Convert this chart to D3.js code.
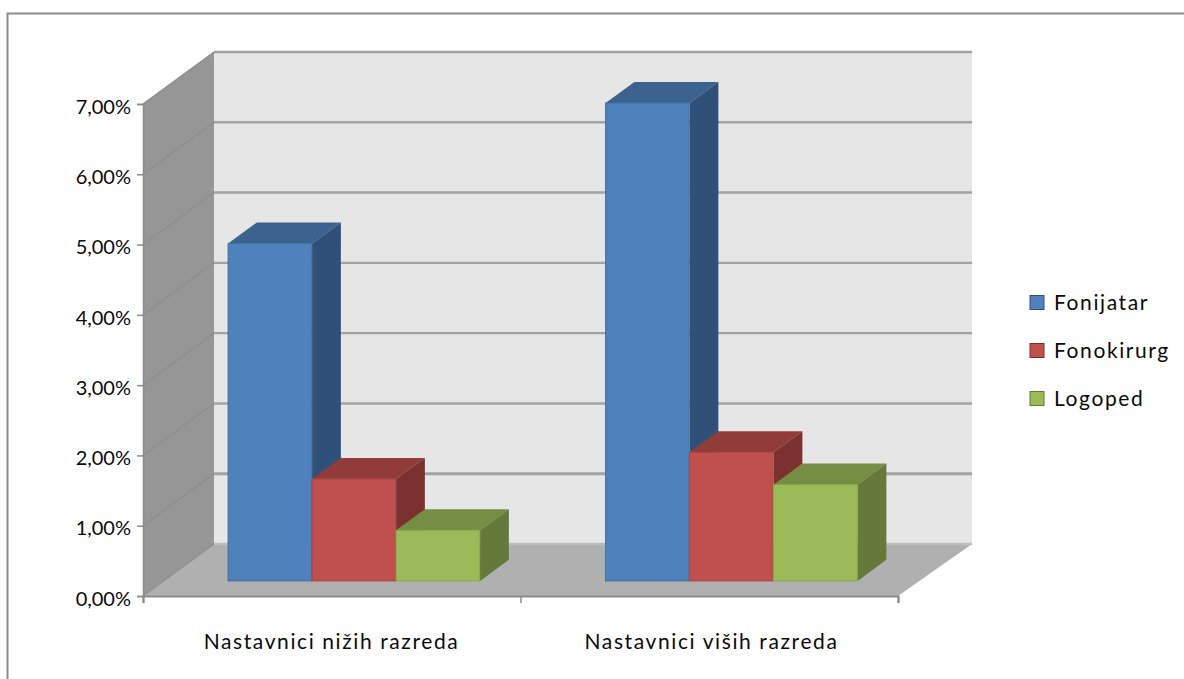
<!DOCTYPE html>
<html>
<head>
<meta charset="utf-8">
<script src="https://cdn.jsdelivr.net/npm/d3@7"></script>
<style>
html,body{margin:0;padding:0;background:#fff}
svg{display:block}
text{font-family:Lato,"Open Sans",sans-serif;font-size:20px;fill:#0a0a0a}
.catLabel,.legendLabel{font-size:21px;letter-spacing:1.6px}
</style>
</head>
<body>
<svg id="chart" width="1184" height="679"></svg>
<script>
// Survey shares per teacher group and specialist
const categories = ["Nastavnici nižih razreda", "Nastavnici viših razreda"];
const seriesNames = ["Fonijatar", "Fonokirurg", "Logoped"];
const fonijatar = [0.048, 0.068];
const fonokirurg = [0.0145, 0.0183];
const logoped = [0.0072, 0.0137];
const seriesValues = [fonijatar, fonokirurg, logoped];
const yTicks = [0, 0.01, 0.02, 0.03, 0.04, 0.05, 0.06, 0.07];

const faceColors = ["#4f81bd", "#c0504d", "#9bbb59"];
const topColors = ["#3c628f", "#923c3a", "#768e43"];
const sideColors = ["#2f5079", "#7b3130", "#64793a"];
const edgeColors = ["#41719f", "#a94543", "#8aa84e"];

const svg = d3.select("#chart");

const x0 = d3.scaleBand().domain(categories).range([143, 898]);
const y = d3.scaleLinear().domain([0, 0.07]).range([596, 104]);
const x1 = d3.scaleBand().domain(seriesNames)
  .range([64.5, 316.5]).paddingInner(0);

// Oblique projection: depth 0 is the front of the floor, depth 1 the back wall
const depthX = 71, depthY = 52;
const proj = (px, py, d) => [px + depthX * d, py - depthY * d];
const poly = pts => pts.map(p => p.join(",")).join(" ");

// Chart frame: only the top and left edges fall inside the page
svg.append("path")
  .attr("d", "M7.5,679V13.5H1184")
  .attr("fill", "none").attr("stroke", "#8c8c8c").attr("stroke-width", 2);

const [xL, xR] = x0.range();
const yB = y(0), yT = y(0.07);

// Back wall
svg.append("polygon")
  .attr("points", poly([proj(xL, yT, 1), proj(xR + 3, yT, 1), proj(xR + 3, yB, 1), proj(xL, yB, 1)]))
  .attr("fill", "#e6e6e6");

// Side wall
svg.append("polygon")
  .attr("points", poly([proj(xL, yT, 0), proj(xL, yT, 1), proj(xL, yB, 1), proj(xL, yB, 0)]))
  .attr("fill", "#969696");

// Floor
svg.append("polygon")
  .attr("points", poly([proj(xL, yB, 0), proj(xR, yB, 0), proj(xR + 3, yB, 1), proj(xL, yB, 1)]))
  .attr("fill", "#b0b0b0");

// Gridlines on both walls
yTicks.forEach(t => {
  const a = proj(xL, y(t), 0), b = proj(xL, y(t), 1), c = proj(xR + 3, y(t), 1);
  svg.append("line").attr("x1", a[0]).attr("y1", a[1]).attr("x2", b[0]).attr("y2", b[1])
    .attr("stroke", "#8d8d8d").attr("stroke-width", 1.2);
  svg.append("line").attr("x1", b[0]).attr("y1", b[1]).attr("x2", c[0]).attr("y2", c[1])
    .attr("stroke", t === 0 ? "#bdbdbd" : "#a3a3a3").attr("stroke-width", t === 0.01 ? 3 : 2.4);
});

// Bars: front, top and side faces placed between two depths on the floor
const dFront = 0.29, dBack = 0.695;
categories.forEach((cat, ci) => {
  seriesNames.forEach((name, si) => {
    const v = seriesValues[si][ci];
    const left = x0(cat) + x1(name);
    const right = left + x1.bandwidth();
    const g = svg.append("g");
    g.append("polygon").attr("points", poly([
      proj(left, y(v), dFront), proj(right, y(v), dFront),
      proj(right, y(v), dBack), proj(left, y(v), dBack)
    ])).attr("fill", topColors[si]);
    g.append("polygon").attr("points", poly([
      proj(right, y(v), dFront), proj(right, y(v), dBack),
      proj(right, y(0), dBack), proj(right, y(0), dFront)
    ])).attr("fill", sideColors[si]);
    const a = proj(left, y(v), dFront), b = proj(right, y(0), dFront);
    g.append("rect").attr("x", a[0]).attr("y", a[1])
      .attr("width", b[0] - a[0] - 0.5).attr("height", b[1] - a[1])
      .attr("fill", faceColors[si]).attr("stroke", edgeColors[si]).attr("stroke-width", 1);
  });
});

// Value axis
const yAxis = d3.axisLeft(y).tickValues(yTicks).tickSize(6).tickPadding(6)
  .tickFormat(t => d3.format(".2f")(t * 100).replace(".", ",") + "%");
const yG = svg.append("g").attr("transform", `translate(${xL},0)`).call(yAxis);
yG.attr("font-family", null).attr("font-size", null);
yG.select(".domain").attr("stroke", "#8c8c8c").attr("stroke-width", 1.5);
yG.selectAll(".tick line").attr("stroke", "#8c8c8c").attr("stroke-width", 1.5);
yG.selectAll("text").attr("dy", "0.46em").style("fill", "#0a0a0a");

// Category axis
const xTickPos = [xL, x0(categories[1]), xR];
const xG = svg.append("g").attr("transform", `translate(0,${yB})`);
xG.call(d3.axisBottom(d3.scaleLinear().domain([xL, xR]).range([xL, xR]))
  .tickValues(xTickPos).tickSize(7).tickFormat(""));
xG.attr("font-family", null).attr("font-size", null);
xG.select(".domain").attr("stroke", "#8c8c8c").attr("stroke-width", 2.2);
xG.selectAll(".tick line").attr("stroke", "#8c8c8c").attr("stroke-width", 1.5);

const labelX = d3.scalePoint().domain(categories).range([331.5, 711.5]);
svg.selectAll(".catLabel").data(categories).join("text")
  .attr("class", "catLabel")
  .attr("x", d => labelX(d))
  .attr("y", 649)
  .attr("text-anchor", "middle")
  .text(d => d);

// Legend
const legendY = d3.scalePoint().domain(seriesNames).range([303, 399]);
seriesNames.forEach((name, i) => {
  svg.append("rect")
    .attr("x", 1030).attr("y", legendY(name) - 7.5)
    .attr("width", 14).attr("height", 14)
    .attr("fill", faceColors[i]).attr("stroke", sideColors[i]).attr("stroke-width", 1);
  svg.append("text").attr("class", "legendLabel")
    .attr("x", 1054).attr("y", legendY(name) + 7).text(name);
});
</script>
</body>
</html>
